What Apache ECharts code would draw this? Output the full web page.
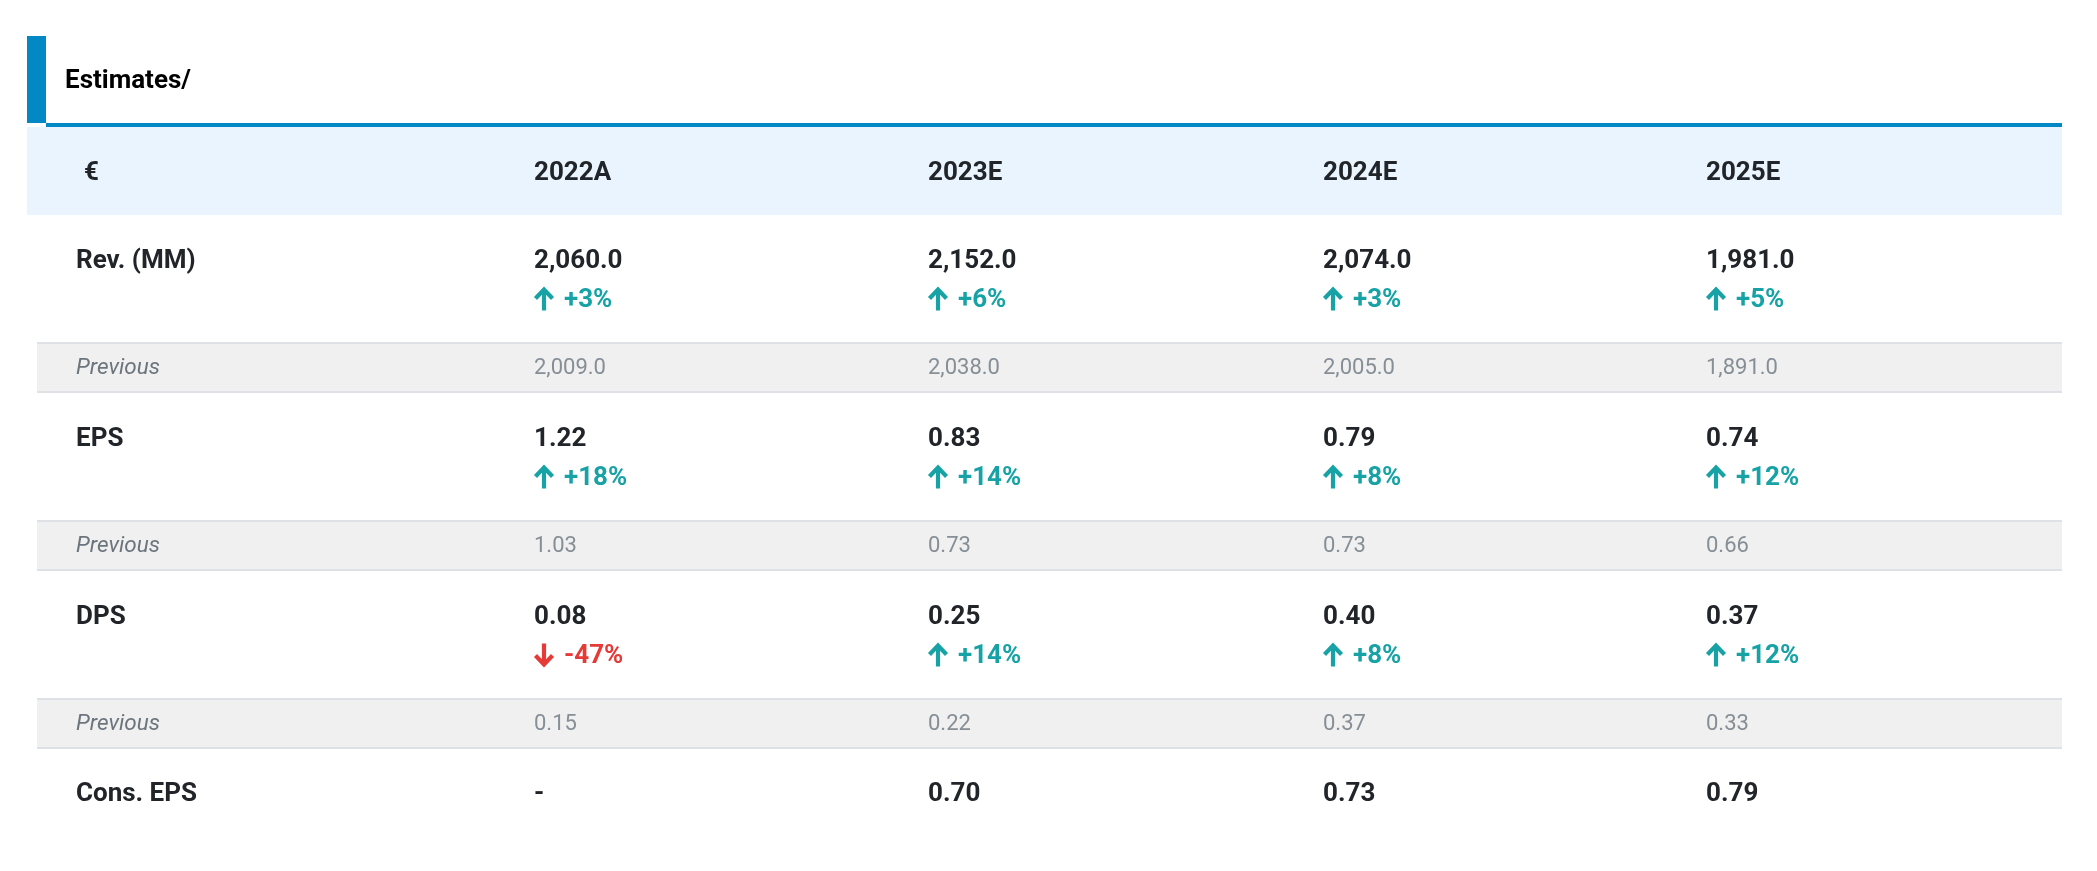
<!DOCTYPE html>
<html><head><meta charset="utf-8">
<script src="https://cdn.jsdelivr.net/npm/echarts@6/dist/echarts.min.js"></script>
<style>html,body{margin:0;padding:0;background:#fff}#c{width:2097px;height:871px}</style>
</head><body><div id="c"></div>
<script>
// ---------- data ----------
const title = 'Estimates/';
const currency = '€';
const periods = ['2022A', '2023E', '2024E', '2025E'];
const metrics = ['Rev. (MM)', 'EPS', 'DPS'];
const previousLabel = 'Previous';
const consLabel = 'Cons. EPS';
const revenue = [2060.0, 2152.0, 2074.0, 1981.0];
const revenueChange = [3, 6, 3, 5];
const revenuePrevious = [2009.0, 2038.0, 2005.0, 1891.0];
const eps = [1.22, 0.83, 0.79, 0.74];
const epsChange = [18, 14, 8, 12];
const epsPrevious = [1.03, 0.73, 0.73, 0.66];
const dps = [0.08, 0.25, 0.40, 0.37];
const dpsChange = [-47, 14, 8, 12];
const dpsPrevious = [0.15, 0.22, 0.37, 0.33];
const consEps = [null, 0.70, 0.73, 0.79];

// ---------- layout (axis units) ----------
const colX = [76, 534, 928, 1323, 1706];
const L = {
  left: 27, inner: 46, prevLeft: 37, right: 2062,
  barTop: 36, lineTop: 123, lineH: 4,
  headerTop: 127, headerH: 88,
  blockH: 178, valueOff: 46, changeOff: 85, prevOff: 127, prevH: 51, prevTextOff: 153,
  consOff: 45, titleX: 65, titleY: 81, currencyX: 84, textShift: 2
};
const C = {
  blue: '#0288C5', headerBg: '#EAF4FE', prevBg: '#F0F0F0', prevBorder: '#DEE2E6',
  text: '#212529', title: '#000000', up: '#17A2A6', down: '#E53A35',
  prevLabel: '#6C757D', prevValue: '#868E96'
};
const F = 'Roboto, "Noto Sans", sans-serif';

const series1 = [
  { values: revenue, change: revenueChange, prev: revenuePrevious, dec: 1 },
  { values: eps, change: epsChange, prev: epsPrevious, dec: 2 },
  { values: dps, change: dpsChange, prev: dpsPrevious, dec: 2 }
];
function fmt(v, d) {
  if (v === null || v === undefined) return '-';
  return v.toLocaleString('en-US', { minimumFractionDigits: d, maximumFractionDigits: d });
}

// ---------- build cells ----------
const cells = [];
cells.push({ x: L.titleX, y: L.titleY, text: title, kind: 'title' });
const headY = L.headerTop + L.headerH / 2 + L.textShift;
cells.push({ x: L.currencyX, y: headY, text: currency, kind: 'head' });
periods.forEach((p, i) => cells.push({ x: colX[i + 1], y: headY, text: p, kind: 'head' }));
const bodyTop = L.headerTop + L.headerH;
metrics.forEach((m, mi) => {
  const top = bodyTop + mi * L.blockH;
  const s = series1[mi];
  cells.push({ x: colX[0], y: top + L.valueOff, text: m, kind: 'label' });
  cells.push({ x: colX[0], y: top + L.prevTextOff, text: previousLabel, kind: 'prevLabel' });
  periods.forEach((p, i) => {
    cells.push({ x: colX[i + 1], y: top + L.valueOff, text: fmt(s.values[i], s.dec), kind: 'value' });
    const ch = s.change[i];
    cells.push({ x: colX[i + 1], y: top + L.changeOff, text: (ch >= 0 ? '+' : '') + ch + '%', kind: 'change', up: ch >= 0 });
    cells.push({ x: colX[i + 1], y: top + L.prevTextOff, text: fmt(s.prev[i], s.dec), kind: 'prev' });
  });
});
const consTop = bodyTop + metrics.length * L.blockH;
cells.push({ x: colX[0], y: consTop + L.consOff, text: consLabel, kind: 'label' });
periods.forEach((p, i) => cells.push({ x: colX[i + 1], y: consTop + L.consOff, text: fmt(consEps[i], 2), kind: 'value' }));

const styles = {
  title: { font: 'bold 26px ' + F, fill: C.title },
  head: { font: 'bold 26px ' + F, fill: C.text },
  label: { font: 'bold 26px ' + F, fill: C.text },
  value: { font: 'bold 26px ' + F, fill: C.text },
  change: { font: 'bold 26px ' + F },
  prevLabel: { font: 'italic 22.5px ' + F, fill: C.prevLabel },
  prev: { font: '22px ' + F, fill: C.prevValue }
};

function rectBetween(api, x0, y0, x1, y1, fill) {
  const a = api.coord([x0, y0]), b = api.coord([x1, y1]);
  return { type: 'rect', shape: { x: a[0], y: a[1], width: b[0] - a[0], height: b[1] - a[1] }, style: { fill: fill } };
}

const chart = echarts.init(document.getElementById('c'), null, { renderer: 'canvas' });
chart.setOption({
  animation: false,
  backgroundColor: '#ffffff',
  grid: { left: 0, right: 0, top: 0, bottom: 0 },
  xAxis: { type: 'value', min: 0, max: 2097, show: false },
  yAxis: { type: 'value', min: 0, max: 871, inverse: true, show: false },
  series: [
    {
      type: 'custom', silent: true, clip: false,
      data: [[0, 0]],
      renderItem: function (params, api) {
        const ch = [];
        ch.push(rectBetween(api, L.left, L.barTop, L.inner, L.lineTop, C.blue));
        ch.push(rectBetween(api, L.inner, L.lineTop, L.right, L.lineTop + L.lineH, C.blue));
        ch.push(rectBetween(api, L.left, L.headerTop, L.right, L.headerTop + L.headerH, C.headerBg));
        metrics.forEach((m, mi) => {
          const t = bodyTop + mi * L.blockH + L.prevOff;
          ch.push(rectBetween(api, L.prevLeft, t, L.right, t + L.prevH, C.prevBg));
          ch.push(rectBetween(api, L.prevLeft, t, L.right, t + 2, C.prevBorder));
          ch.push(rectBetween(api, L.prevLeft, t + L.prevH - 2, L.right, t + L.prevH, C.prevBorder));
        });
        return { type: 'group', children: ch };
      }
    },
    {
      type: 'custom', silent: true, clip: false,
      data: cells.map(c => [c.x, c.y]),
      renderItem: function (params, api) {
        const cell = cells[params.dataIndex];
        const p = api.coord([api.value(0), api.value(1)]);
        const st = styles[cell.kind];
        if (cell.kind === 'change') {
          const col = cell.up ? C.up : C.down;
          const ax = p[0], ay = p[1] - 1;
          const s = cell.up ? 1 : -1;
          return {
            type: 'group', children: [
              { type: 'polyline', shape: { points: [[ax + 10, ay + 11.5 * s], [ax + 10, ay - 9.5 * s]] }, style: { stroke: col, lineWidth: 4.2, fill: null } },
              { type: 'polyline', shape: { points: [[ax + 1.5, ay - 0.5 * s], [ax + 10, ay - 9.5 * s], [ax + 18.5, ay - 0.5 * s]] }, style: { stroke: col, lineWidth: 4.2, fill: null, lineJoin: 'miter' } },
              { type: 'text', x: ax + 30, y: p[1], style: { text: cell.text, font: st.font, fill: col, align: 'left', verticalAlign: 'middle' } }
            ]
          };
        }
        return { type: 'text', x: p[0], y: p[1], style: { text: cell.text, font: st.font, fill: st.fill, align: 'left', verticalAlign: 'middle' } };
      }
    }
  ]
});
</script></body></html>
